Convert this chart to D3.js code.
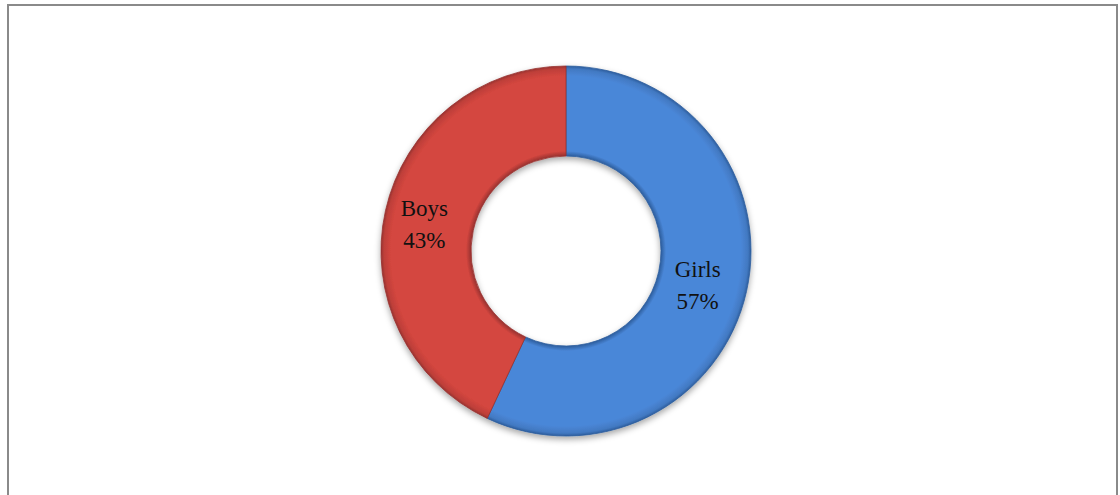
<!DOCTYPE html>
<html>
<head>
<meta charset="utf-8">
<script src="https://cdn.jsdelivr.net/npm/d3@7"></script>
<style>
  html, body { margin: 0; padding: 0; background: #fff; }
  svg { display: block; }
</style>
</head>
<body>
<svg id="chart" width="1120" height="495"></svg>
<script>
// Share of pupils by gender
const categories = ["Girls", "Boys"];
const values = [57, 43];
const sliceColors = ["#4a87d8", "#d4463f"];
const edgeColors = ["#2d5e9e", "#983230"];

const svg = d3.select("#chart");

// frame
svg.append("rect")
  .attr("x", 8).attr("y", 5)
  .attr("width", 1109).attr("height", 500)
  .attr("fill", "#fff")
  .attr("stroke", "#8a8a8a")
  .attr("stroke-width", 2);

const cx = 566, cy = 251, rOuter = 185, rInner = 95;
const defs = svg.append("defs");

const shadow = defs.append("filter").attr("id", "shadow")
  .attr("x", "-20%").attr("y", "-20%").attr("width", "140%").attr("height", "140%");
shadow.append("feDropShadow")
  .attr("dx", 0).attr("dy", 3).attr("stdDeviation", 3)
  .attr("flood-color", "#000").attr("flood-opacity", 0.35);

// bevel-like shading across the ring width
categories.forEach((c, i) => {
  const g = defs.append("radialGradient")
    .attr("id", "grad" + i)
    .attr("gradientUnits", "userSpaceOnUse")
    .attr("cx", 0).attr("cy", 0).attr("r", rOuter);
  const base = d3.color(sliceColors[i]);
  const stops = [
    [rInner / rOuter, edgeColors[i]],
    [(rInner + 5) / rOuter, base.formatHex()],
    [(rOuter - 10) / rOuter, base.formatHex()],
    [(rOuter - 3) / rOuter, base.darker(0.3).formatHex()],
    [1, edgeColors[i]]
  ];
  stops.forEach(([o, col]) => g.append("stop").attr("offset", o).attr("stop-color", col));
});

const pie = d3.pie().sort(null).value(d => d.value);
const data = pie(categories.map((c, i) => ({ name: c, value: values[i], i })));
const arc = d3.arc().innerRadius(rInner).outerRadius(rOuter);

const g = svg.append("g").attr("transform", `translate(${cx},${cy})`);

g.append("g").attr("filter", "url(#shadow)")
  .selectAll("path").data(data).join("path")
  .attr("d", arc)
  .attr("fill", d => `url(#grad${d.data.i})`)
  .attr("stroke", d => edgeColors[d.data.i])
  .attr("stroke-width", 0.8);

// labels, set slightly left of the ring's mid-line
const labelArc = d3.arc().innerRadius((rInner + rOuter) / 2).outerRadius((rInner + rOuter) / 2);
const labels = g.selectAll("text.lbl").data(data).join("text")
  .attr("class", "lbl")
  .attr("transform", d => {
    const [x, y] = labelArc.centroid(d);
    return `translate(${x - 5},${y})`;
  })
  .attr("text-anchor", "middle")
  .style("font-family", "'Liberation Serif', 'Times New Roman', serif")
  .style("font-size", "23px")
  .attr("fill", "#111");
labels.append("tspan").attr("x", 0).attr("dy", "-0.2em").text(d => d.data.name);
labels.append("tspan").attr("x", 0).attr("dy", "1.38em").text(d => d.data.value + "%");
</script>
</body>
</html>
